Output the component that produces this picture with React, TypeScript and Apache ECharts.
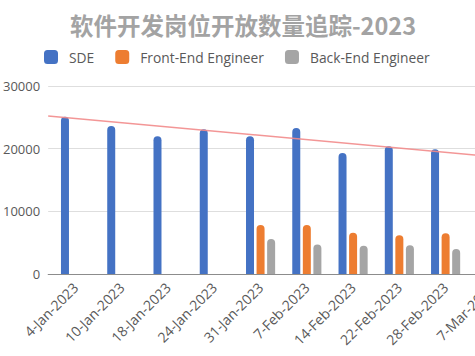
import React, { useEffect, useRef } from 'react';
import * as echarts from 'echarts';

const categories = [
  '4-Jan-2023', '10-Jan-2023', '18-Jan-2023', '24-Jan-2023', '31-Jan-2023',
  '7-Feb-2023', '14-Feb-2023', '22-Feb-2023', '28-Feb-2023', '7-Mar-2023',
];
const sdeValues = [25100, 23600, 22000, 23100, 22000, 23300, 19300, 20400, 19900, 19600];
const frontEndValues = [null, null, null, null, 7800, 7800, 6600, 6200, 6500, 6300];
const backEndValues = [null, null, null, null, 5600, 4700, 4500, 4600, 4000, 4200];
// linear trendline of SDE, value at the left and right edge of the plot
const trendValues = [25200, 18400];
const seriesNames = ['SDE', 'Front-End Engineer', 'Back-End Engineer'];
const titleText = '软件开发岗位开放数量追踪-2023';
const yMin = 0;
const yMax = 30000;
const yInterval = 10000;

const FONT = '"Open Sans", "Noto Sans", sans-serif';

export default function App() {
  const ref = useRef<HTMLDivElement>(null);
  useEffect(() => {
    document.body.style.margin = '0';
    document.documentElement.style.overflow = 'hidden';
    document.body.style.overflow = 'hidden';
    const chart = echarts.init(ref.current!, undefined, { renderer: 'svg' });
    const gridTop = 86;
    const gridBottom = 82;
    const gridRight = 0;
    chart.setOption({
      animation: false,
      backgroundColor: '#ffffff',
      title: {
        text: titleText,
        left: 238,
        textAlign: 'center',
        top: 8,
        textStyle: {
          fontFamily: '"Noto Sans CJK SC", sans-serif',
          fontSize: 23.5,
          fontWeight: 'bold',
          color: '#a3a3a3',
        },
      },
      legend: {
        data: seriesNames,
        left: 44,
        top: 50,
        padding: 0,
        itemWidth: 14,
        itemHeight: 14,
        itemGap: 21,
        icon: 'roundRect',
        textStyle: {
          fontFamily: FONT,
          fontSize: 13.8,
          color: '#595959',
          padding: [0, 0, 0, 6],
        },
      },
      grid: [
        { left: 43, right: gridRight, top: gridTop, bottom: gridBottom },
        { left: 52.4, right: gridRight, top: gridTop, bottom: gridBottom },
      ],
      xAxis: [
        {
          type: 'value',
          gridIndex: 0,
          min: 0,
          max: 1,
          axisLine: { show: true, onZero: false, lineStyle: { color: '#8c8c8c', width: 1 } },
          axisTick: { show: false },
          axisLabel: { show: false },
          splitLine: { show: false },
        },
        {
          type: 'category',
          gridIndex: 1,
          data: categories,
          axisLine: { show: false },
          axisTick: { show: false },
          axisLabel: {
            interval: 0,
            rotate: 45,
            margin: 11,
            fontFamily: FONT,
            fontSize: 14,
            color: '#595959',
          },
        },
      ],
      yAxis: [
        {
          type: 'value',
          gridIndex: 0,
          min: yMin,
          max: yMax,
          interval: yInterval,
          axisLine: { show: false },
          axisTick: { show: false },
          axisLabel: {
            margin: 8,
            fontFamily: FONT,
            fontSize: 13,
            color: '#595959',
            formatter: (v: number) => String(v),
          },
          splitLine: { lineStyle: { color: '#dedede', width: 1 } },
        },
        {
          type: 'value',
          gridIndex: 1,
          min: yMin,
          max: yMax,
          interval: yInterval,
          show: false,
          splitLine: { show: false },
        },
      ],
      series: [
        {
          name: seriesNames[0],
          type: 'bar',
          xAxisIndex: 1,
          yAxisIndex: 1,
          data: sdeValues,
          barWidth: 8,
          barGap: '32%',
          itemStyle: { color: '#4472c4', borderRadius: [4, 4, 0, 0] },
        },
        {
          name: seriesNames[1],
          type: 'bar',
          xAxisIndex: 1,
          yAxisIndex: 1,
          data: frontEndValues,
          barWidth: 8,
          barGap: '32%',
          itemStyle: { color: '#ed7d31', borderRadius: [4, 4, 0, 0] },
        },
        {
          name: seriesNames[2],
          type: 'bar',
          xAxisIndex: 1,
          yAxisIndex: 1,
          data: backEndValues,
          barWidth: 8,
          barGap: '32%',
          itemStyle: { color: '#a5a5a5', borderRadius: [4, 4, 0, 0] },
        },
        {
          name: 'trend',
          type: 'line',
          xAxisIndex: 0,
          yAxisIndex: 0,
          z: 5,
          data: [[0, trendValues[0]], [1, trendValues[1]]],
          symbol: 'none',
          lineStyle: { color: '#f28b8b', width: 1.5, opacity: 0.9 },
        },
      ],
    });
    return () => chart.dispose();
  }, []);
  return (
    <div
      ref={ref}
      style={{ position: 'fixed', left: 0, top: 0, width: 515, height: 356 }}
    />
  );
}
